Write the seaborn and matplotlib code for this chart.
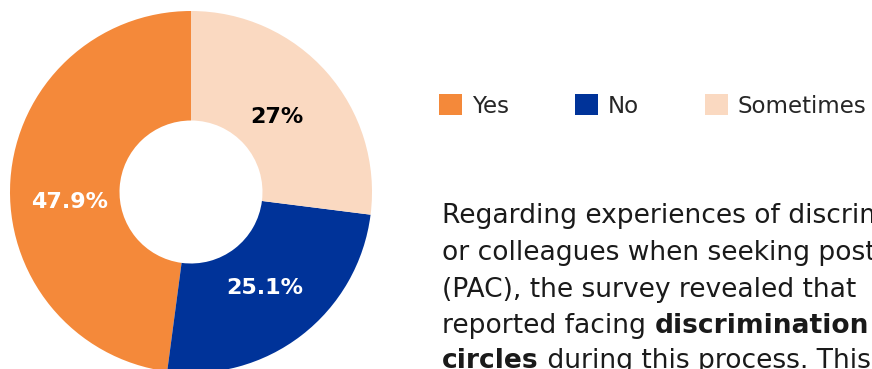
import matplotlib
matplotlib.use("Agg")
import matplotlib.pyplot as plt
from matplotlib.patches import Patch
import seaborn as sns

# Survey responses
categories = ["Yes", "No", "Sometimes"]
shares = [47.9, 25.1, 27.0]
label_texts = ["47.9%", "25.1%", "27%"]
label_colors = ["white", "white", "black"]

sns.set_theme(style="white")
plt.rcParams["font.family"] = ["DejaVu Sans"]
palette = sns.color_palette(["#F4893A", "#003399", "#FAD9C1"])

W, H, DPI = 872, 369, 100
fig = plt.figure(figsize=(W / DPI, H / DPI), dpi=DPI)
fig.patch.set_facecolor("white")

# Donut placed in pixel units: centre (191, 192), outer radius 181
cx, cy, r = 191, 192, 181
ax = fig.add_axes([(cx - r) / W, (H - cy - r) / H, 2 * r / W, 2 * r / H])
wedges, _, autotexts = ax.pie(
    shares,
    colors=palette,
    startangle=90,
    counterclock=True,
    autopct="%1.1f%%",
    pctdistance=0.67,
    wedgeprops=dict(width=0.605, edgecolor="none"),
    textprops=dict(fontsize=16, fontweight="bold"),
)
for t, s, c in zip(autotexts, label_texts, label_colors):
    t.set_text(s)
    t.set_color(c)
# Yes label sits a little below the wedge midline
x0, y0 = autotexts[0].get_position()
autotexts[0].set_position((x0, y0 - 0.1))
x2, y2 = autotexts[2].get_position()
autotexts[2].set_position((x2 - 0.03, y2 - 0.03))
ax.set_xlim(-1, 1)
ax.set_ylim(-1, 1)
ax.set_aspect("equal")
ax.axis("off")

# Legend row
handles = [Patch(facecolor=c, edgecolor="none") for c in palette]
fig.legend(
    handles, categories,
    loc="center left",
    bbox_to_anchor=(439 / W, 1 - 106 / H),
    ncol=3, frameon=False,
    fontsize=16.5,
    handlelength=1.0, handleheight=1.0,
    handletextpad=0.42, columnspacing=2.9,
    borderaxespad=0, borderpad=0,
)

# Paragraph text (runs past the right edge)
fs = 19.1
x_text = 442 / W
baselines = [223, 260, 297, 333, 368]
lines = [
    [("Regarding experiences of discrimination", "normal")],
    [("or colleagues when seeking post-abortion", "normal")],
    [("(PAC), the survey revealed that", "normal")],
    [("reported facing ", "normal"), ("discrimination", "bold")],
    [("circles", "bold"), (" during this process. This", "normal")],
]
fig.canvas.draw()
renderer = fig.canvas.get_renderer()
for yb, runs in zip(baselines, lines):
    x = x_text
    for s, w in runs:
        t = fig.text(x, 1 - yb / H, s, fontsize=fs, fontweight=w,
                     color="#1a1a1a", ha="left", va="baseline")
        bb = t.get_window_extent(renderer=renderer)
        x = bb.x1 / W

fig.savefig("out.png", dpi=DPI, facecolor="white")
